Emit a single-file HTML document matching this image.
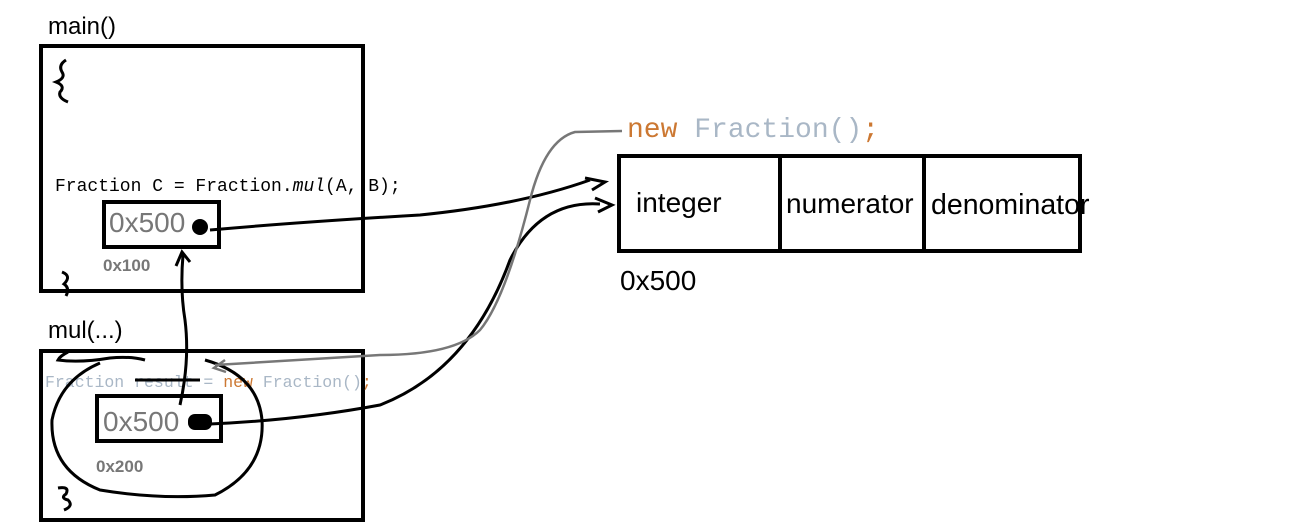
<!DOCTYPE html>
<html><head><style>
body{margin:0;background:#fff;width:1308px;height:530px;overflow:hidden}
svg{display:block}
.sans{font-family:"Liberation Sans",sans-serif}
.mono{font-family:"Liberation Mono",monospace}
</style></head><body>
<svg width="1308" height="530" xmlns="http://www.w3.org/2000/svg">
<g fill="none" stroke="#000" stroke-width="4">
<rect x="41" y="46" width="322" height="245"/>
<rect x="41" y="351" width="322" height="169"/>
<rect x="104" y="202" width="115" height="45"/>
<rect x="97" y="396" width="124" height="45"/>
<rect x="619" y="156" width="461" height="95"/>
<line x1="780" y1="156" x2="780" y2="251"/>
<line x1="924" y1="156" x2="924" y2="251"/>
</g>
<text x="48" y="34" class="sans" font-size="24">main()</text>
<text x="48" y="338" class="sans" font-size="24">mul(...)</text>
<text x="55" y="191" class="mono" font-size="18">Fraction C = Fraction.<tspan font-style="italic">mul</tspan>(A, B);</text>
<text x="45" y="387" class="mono" font-size="16.5" fill="#a9b7c6">Fraction result = <tspan fill="#cc7832">new</tspan> Fraction()<tspan fill="#cc7832">;</tspan></text>
<text x="627" y="137" class="mono" font-size="28" fill="#a9b7c6"><tspan fill="#cc7832">new</tspan> Fraction()<tspan fill="#cc7832">;</tspan></text>
<text x="109" y="232" class="sans" font-size="28" fill="#777">0x500</text>
<text x="103" y="431" class="sans" font-size="28" fill="#777">0x500</text>
<text x="103" y="271" class="sans" font-size="17" font-weight="bold" fill="#777">0x100</text>
<text x="96" y="472" class="sans" font-size="17" font-weight="bold" fill="#777">0x200</text>
<text x="636" y="212" class="sans" font-size="28">integer</text>
<text x="786" y="213" class="sans" font-size="28">numerator</text>
<text x="931" y="214" class="sans" font-size="28.5">denominator</text>
<text x="620" y="290" class="sans" font-size="28">0x500</text>
<g fill="none" stroke="#000" stroke-width="3">
<path d="M66 60 Q58 65 62 72 Q66 78 56 82 Q66 86 60 92 Q58 98 68 102"/>
<path d="M62 272 Q72 276 64 284 Q70 288 66 296"/>
<path d="M58 488 Q70 486 66 494 Q60 498 68 500 Q74 506 64 510"/>
<path d="M68 352 Q60 356 58 360 Q80 363 110 358 Q130 356 145 360"/>
<path d="M210 230 Q300 222 420 215 Q520 205 590 180"/>
<path d="M210 424 Q300 420 380 405 Q470 370 510 260 Q540 200 600 204"/>
<path d="M180 405 Q190 360 185 320 Q180 290 183 255"/>
<path d="M176 266 L182 252 L190 262"/>
<path d="M585 178 L605 182 L592 190"/>
<path d="M595 198 L612 205 L598 212"/>
<path d="M100 363 Q60 380 52 420 Q50 470 100 490 Q160 500 215 495 Q265 470 262 420 Q258 375 205 360"/>
<path d="M135 380 L200 380"/>
</g>
<circle cx="200" cy="227" r="8" fill="#000"/>
<rect x="188" y="414" width="24" height="16" rx="7" fill="#000"/>
<g fill="none" stroke="#777" stroke-width="2.5">
<path d="M622 131 L575 132 Q545 140 530 200 Q505 300 480 330 Q455 355 380 355 L215 365"/>
<path d="M225 360 L214 368 L226 372"/>
</g>
</svg>
</body></html>
